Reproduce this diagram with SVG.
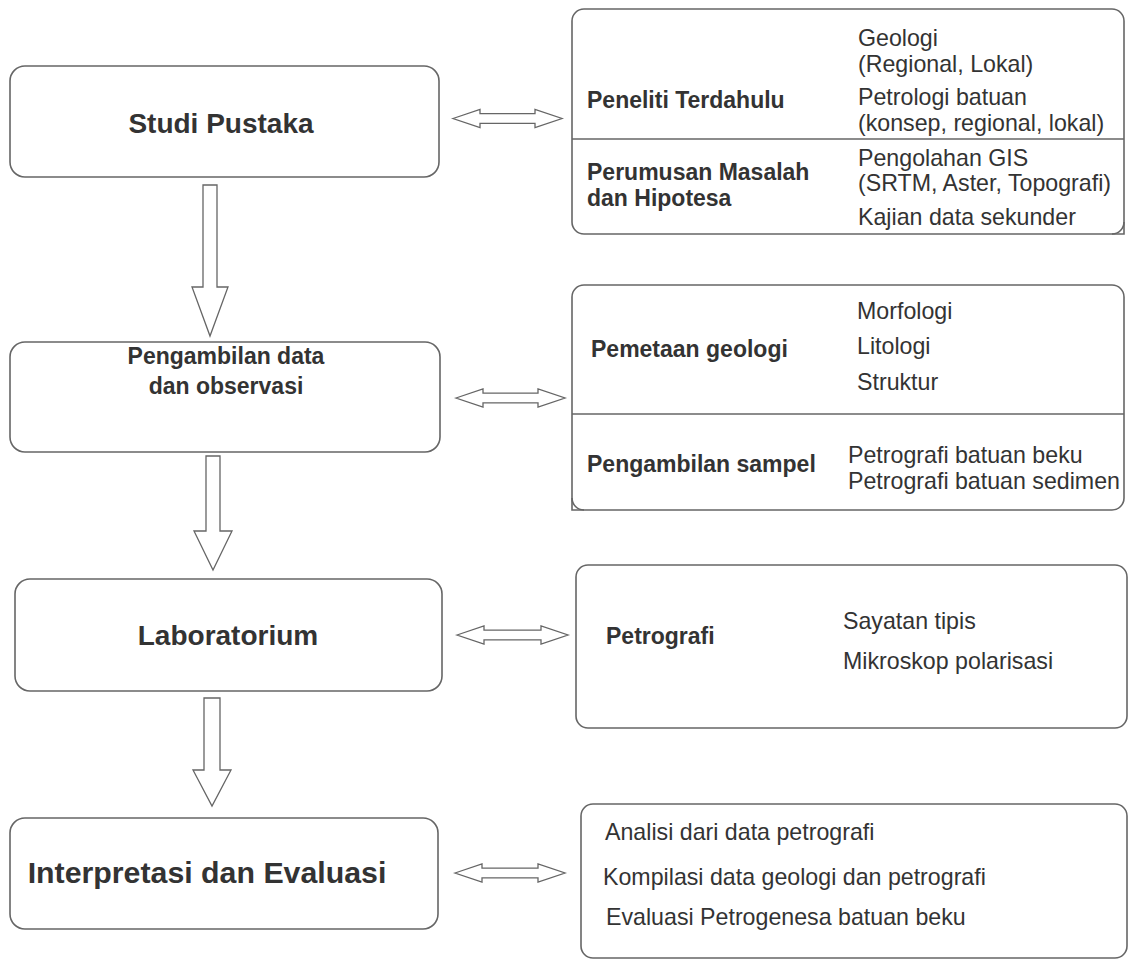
<svg xmlns="http://www.w3.org/2000/svg" width="1133" height="960" viewBox="0 0 1133 960">
<style>
.box{fill:#fff;stroke:#666;stroke-width:1.6}
.div{stroke:#666;stroke-width:1.6;fill:none}
.arr{fill:#fff;stroke:#666;stroke-width:1.3;stroke-linejoin:miter}
.t{font-family:"Liberation Sans",Arial,sans-serif;fill:#333}
.h{font-weight:bold;text-anchor:middle}
.b{font-size:23px;font-weight:bold}
.r{font-size:23.2px}
</style>
<rect width="1133" height="960" fill="#fff"/>
<g id="studi-pustaka">
<rect class="box" x="10" y="66" width="429" height="111" rx="15"/>
<text class="t h" x="221" y="133" font-size="28">Studi Pustaka</text>
</g>
<g id="pengambilan-data">
<rect class="box" x="10" y="342" width="430" height="110" rx="15"/>
<text class="t h" x="226" y="364" font-size="23">Pengambilan data</text>
<text class="t h" x="226" y="394" font-size="23">dan observasi</text>
</g>
<g id="laboratorium">
<rect class="box" x="15" y="579" width="427" height="112" rx="15"/>
<text class="t h" x="228" y="645" font-size="28">Laboratorium</text>
</g>
<g id="interpretasi">
<rect class="box" x="10" y="818" width="428" height="111" rx="15"/>
<text class="t h" x="207" y="883" font-size="30.3">Interpretasi dan Evaluasi</text>
</g>
<g id="detail-studi">
<rect class="box" x="572" y="9" width="552" height="225" rx="12"/>
<polyline class="div" points="1124,222 1124,234 1112,234"/>
<line class="div" x1="572" y1="139" x2="1124" y2="139"/>
<text class="t b" x="587" y="108">Peneliti Terdahulu</text>
<text class="t r" x="858" y="46">Geologi</text>
<text class="t r" x="858" y="72">(Regional, Lokal)</text>
<text class="t r" x="858" y="105">Petrologi batuan</text>
<text class="t r" x="858" y="131">(konsep, regional, lokal)</text>
<text class="t b" x="587" y="180">Perumusan Masalah</text>
<text class="t b" x="587" y="206">dan Hipotesa</text>
<text class="t r" x="858" y="166">Pengolahan GIS</text>
<text class="t r" x="858" y="191">(SRTM, Aster, Topografi)</text>
<text class="t r" x="858" y="225">Kajian data sekunder</text>
</g>
<g id="detail-pengambilan">
<rect class="box" x="572" y="285" width="552" height="225" rx="12"/>
<polyline class="div" points="572,498 572,510 584,510"/>
<line class="div" x1="572" y1="414" x2="1124" y2="414"/>
<text class="t b" x="591" y="357">Pemetaan geologi</text>
<text class="t r" x="857" y="319">Morfologi</text>
<text class="t r" x="857" y="354">Litologi</text>
<text class="t r" x="857" y="390">Struktur</text>
<text class="t b" x="587" y="472">Pengambilan sampel</text>
<text class="t r" x="848" y="463">Petrografi batuan beku</text>
<text class="t r" x="848" y="489">Petrografi batuan sedimen</text>
</g>
<g id="detail-lab">
<rect class="box" x="576" y="565" width="551" height="163" rx="12"/>
<text class="t b" x="606" y="644">Petrografi</text>
<text class="t r" x="843" y="629">Sayatan tipis</text>
<text class="t r" x="843" y="669">Mikroskop polarisasi</text>
</g>
<g id="detail-interpretasi">
<rect class="box" x="581" y="804" width="546" height="154" rx="12"/>
<text class="t r" x="605" y="840">Analisi dari data petrografi</text>
<text class="t r" x="603" y="885">Kompilasi data geologi dan petrografi</text>
<text class="t r" x="606" y="925">Evaluasi Petrogenesa batuan beku</text>
</g>
<g id="connectors">
<polygon class="arr" points="203,185 217,185 217,287 228,287 210,336 192,287 203,287"/>
<polygon class="arr" points="206,456 220,456 220,531 232,531 213,570 194,531 206,531"/>
<polygon class="arr" points="204,698 220,698 220,770 231,770 212,806 193,770 204,770"/>
<polygon class="arr" points="453,118.5 480,109.3 480,113.7 535,113.7 535,109.3 562,118.5 535,127.7 535,123.3 480,123.3 480,127.7"/>
<polygon class="arr" points="456,398 483,388.8 483,393.2 538,393.2 538,388.8 565,398 538,407.2 538,402.8 483,402.8 483,407.2"/>
<polygon class="arr" points="457,635 484,625.8 484,630.2 541,630.2 541,625.8 568,635 541,644.2 541,639.8 484,639.8 484,644.2"/>
<polygon class="arr" points="455,873 482,863.8 482,868.2 538,868.2 538,863.8 565,873 538,882.2 538,877.8 482,877.8 482,882.2"/>
</g>
</svg>
